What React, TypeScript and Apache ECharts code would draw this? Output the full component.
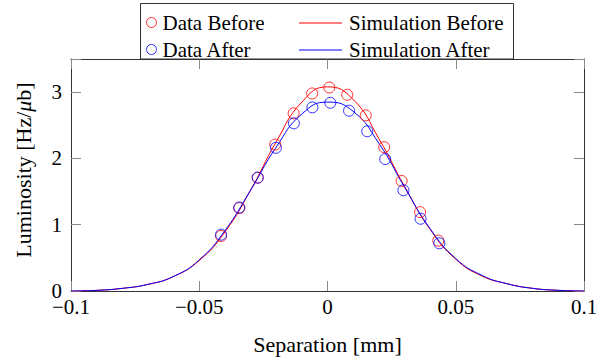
import React, { useEffect, useRef } from "react";
import * as echarts from "echarts";

const dataSepBefore = [-0.0415, -0.0344, -0.0272, -0.0204, -0.0132, -0.006, 0.0007, 0.0077, 0.0149, 0.0221, 0.0289, 0.0361, 0.0432];
const dataLumBefore = [0.83, 1.25, 1.71, 2.21, 2.68, 2.98, 3.07, 2.96, 2.65, 2.17, 1.66, 1.19, 0.76];
const dataSepAfter = [-0.0415, -0.0344, -0.0272, -0.0201, -0.0131, -0.0059, 0.0011, 0.0084, 0.0155, 0.0225, 0.0296, 0.0363, 0.0436];
const dataLumAfter = [0.85, 1.26, 1.71, 2.16, 2.53, 2.77, 2.84, 2.72, 2.41, 1.99, 1.52, 1.09, 0.72];

const simSep = [-0.1, -0.09, -0.08, -0.07, -0.06, -0.05, -0.04, -0.03, -0.02, -0.01, 0, 0.01, 0.02, 0.03, 0.04, 0.05, 0.06, 0.07, 0.08, 0.09, 0.1];
const simBefore = [0.0, 0.01, 0.04, 0.1, 0.22, 0.46, 0.89, 1.52, 2.25, 2.85, 3.08, 2.89, 2.3, 1.58, 0.93, 0.48, 0.23, 0.11, 0.04, 0.01, 0.0];
const simAfter = [0.0, 0.01, 0.04, 0.1, 0.22, 0.47, 0.91, 1.52, 2.17, 2.67, 2.85, 2.71, 2.23, 1.57, 0.94, 0.49, 0.24, 0.11, 0.04, 0.01, 0.0];

const yTicks = [0, 1, 2, 3];
const xTicks = [-0.1, -0.05, 0, 0.05, 0.1];

const FONT = "Liberation Serif";
const FS = 21;
const RED = "#ff0000";
const BLUE = "#0000ff";
const FRAME = "#333333";
const TICK = "#8a8a8a";

const zip = (xs: number[], ys: number[]) => xs.map((x, i) => [x, ys[i]]);
const fmtNum = (v: number) => {
  const r = Math.round(v * 1000) / 1000;
  const s = String(Math.abs(r));
  return r < 0 ? "\u2212" + s : s;
};

export default function App() {
  const ref = useRef<HTMLDivElement>(null);
  useEffect(() => {
    document.body.style.margin = "0";
    if (!ref.current) return;
    const chart = echarts.init(ref.current, undefined, { renderer: "svg" });
    const xLabel = (v: number) => {
      const hit = xTicks.find((t) => Math.abs(t - v) < 1e-9);
      return hit === undefined ? "" : fmtNum(hit);
    };
    const yLabel = (v: number) => {
      const hit = yTicks.find((t) => Math.abs(t - v) < 1e-9);
      return hit === undefined ? "" : fmtNum(hit);
    };
    const axisCommon = {
      axisLine: { show: true, onZero: false, lineStyle: { color: FRAME, width: 1 } },
      axisTick: { show: true, inside: true, length: 10, lineStyle: { color: TICK, width: 1 } },
      splitLine: { show: false },
    };
    chart.setOption({
      animation: false,
      backgroundColor: "#ffffff",
      textStyle: { fontFamily: FONT },
      grid: { left: 71, right: 18, top: 59, bottom: 65 },
      xAxis: [
        {
          type: "value",
          min: -0.1,
          max: 0.1,
          interval: 0.05,
          position: "bottom",
          ...axisCommon,
          axisLabel: {
            show: true,
            formatter: xLabel,
            color: "#000",
            fontFamily: FONT,
            fontSize: FS,
            lineHeight: 14,
            margin: 9,
            showMinLabel: true,
            showMaxLabel: true,
          },
          name: "Separation [mm]",
          nameLocation: "middle",
          nameGap: 42,
          nameTextStyle: { color: "#000", fontFamily: FONT, fontSize: 22 },
        },
        {
          type: "value",
          min: -0.1,
          max: 0.1,
          interval: 0.05,
          position: "top",
          ...axisCommon,
          axisLabel: { show: false },
        },
      ],
      yAxis: [
        {
          type: "value",
          min: 0,
          max: 3.5,
          interval: 1,
          position: "left",
          ...axisCommon,
          axisLabel: {
            show: true,
            formatter: yLabel,
            color: "#000",
            fontFamily: FONT,
            fontSize: FS,
            lineHeight: 14,
            margin: 9,
          },
          name: "Luminosity [Hz/{i|\u03bc}b]",
          nameLocation: "middle",
          nameGap: 37,
          nameRotate: 90,
          nameTextStyle: {
            color: "#000",
            fontFamily: FONT,
            fontSize: 22,
            padding: [0, 0, 0, 10],
            rich: { i: { fontStyle: "italic", fontFamily: FONT, fontSize: 22, color: "#000" } },
          },
        },
        {
          type: "value",
          min: 0,
          max: 3.5,
          interval: 1,
          position: "right",
          ...axisCommon,
          axisLabel: { show: false },
        },
      ],
      graphic: [
        {
          type: "rect",
          z: 3,
          shape: { x: 140.5, y: 3.5, width: 373, height: 55.5 },
          style: { fill: "#ffffff", stroke: FRAME, lineWidth: 1 },
        },
        {
          type: "line",
          z: 6,
          shape: { x1: 299, y1: 23, x2: 342, y2: 23 },
          style: { stroke: RED, lineWidth: 1 },
        },
        {
          type: "line",
          z: 6,
          shape: { x1: 299, y1: 50, x2: 342, y2: 50 },
          style: { stroke: BLUE, lineWidth: 1 },
        },
      ],
      legend: [
        {
          z: 5,
          orient: "vertical",
          left: 146,
          top: 12,
          itemWidth: 10,
          itemHeight: 10,
          itemGap: 6,
          padding: 0,
          textStyle: { fontFamily: FONT, fontSize: FS, color: "#000", padding: [0, 0, 0, 1] },
          data: [
            { name: "Data Before", icon: "circle", itemStyle: { color: "#fff", borderColor: RED, borderWidth: 1 } },
            { name: "Data After", icon: "circle", itemStyle: { color: "#fff", borderColor: BLUE, borderWidth: 1 } },
          ],
        },
        {
          z: 5,
          orient: "vertical",
          left: 299,
          top: 12,
          itemWidth: 43,
          itemHeight: 10,
          itemGap: 6,
          padding: 0,
          textStyle: { fontFamily: FONT, fontSize: FS, color: "#000", padding: [0, 0, 0, 1] },
          data: [
            { name: "Simulation Before", itemStyle: { opacity: 0 }, lineStyle: { opacity: 0 } },
            { name: "Simulation After", itemStyle: { opacity: 0 }, lineStyle: { opacity: 0 } },
          ],
        },
      ],
      series: [
        {
          name: "Simulation Before",
          type: "line",
          data: zip(simSep, simBefore),
          smooth: true,
          symbol: "none",
          lineStyle: { color: RED, width: 1 },
          itemStyle: { color: RED },
          z: 2,
        },
        {
          name: "Simulation After",
          type: "line",
          data: zip(simSep, simAfter),
          smooth: true,
          symbol: "none",
          lineStyle: { color: BLUE, width: 1 },
          itemStyle: { color: BLUE },
          z: 2,
        },
        {
          name: "Data Before",
          type: "scatter",
          data: zip(dataSepBefore, dataLumBefore),
          symbol: "circle",
          symbolSize: 11,
          itemStyle: { color: "rgba(255,255,255,0)", borderColor: RED, borderWidth: 1 },
          z: 3,
        },
        {
          name: "Data After",
          type: "scatter",
          data: zip(dataSepAfter, dataLumAfter),
          symbol: "circle",
          symbolSize: 11,
          itemStyle: { color: "rgba(255,255,255,0)", borderColor: BLUE, borderWidth: 1 },
          z: 3,
        },
      ],
    });
    return () => chart.dispose();
  }, []);
  return <div ref={ref} style={{ width: 602, height: 360 }} />;
}
